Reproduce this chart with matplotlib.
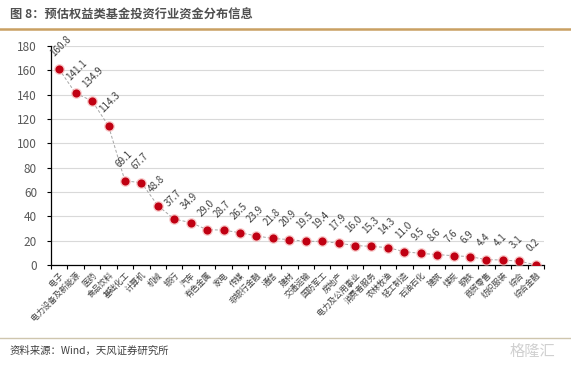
import matplotlib
matplotlib.use("Agg")
import matplotlib.pyplot as plt
from matplotlib.lines import Line2D
import numpy as np

plt.rcParams['font.family'] = ['Noto Sans CJK SC', 'DejaVu Sans']

categories = ["电子", "电力设备及新能源", "医药", "食品饮料", "基础化工", "计算机", "机械", "银行",
              "汽车", "有色金属", "家电", "传媒", "非银行金融", "通信", "建材", "交通运输",
              "国防军工", "房地产", "电力及公用事业", "消费者服务", "农林牧渔", "轻工制造",
              "石油石化", "建筑", "煤炭", "钢铁", "商贸零售", "纺织服装", "综合", "综合金融"]
values = [160.8, 141.1, 134.9, 114.3, 69.1, 67.7, 48.8, 37.7, 34.9, 29.0, 28.7, 26.5, 23.9,
          21.8, 20.9, 19.5, 19.4, 17.9, 16.0, 15.3, 14.3, 11.0, 9.5, 8.6, 7.6, 6.9, 4.4, 4.1,
          3.1, 0.2]
yticks = [0, 20, 40, 60, 80, 100, 120, 140, 160, 180]
title = "图 8：预估权益类基金投资行业资金分布信息"
source = "资料来源：Wind，天风证券研究所"

fig = plt.figure(figsize=(5.71, 3.70), dpi=100)
ax = fig.add_axes([51/571, 1-265/370, (544-51)/571, (265-46)/370])

x = np.arange(len(values))
ax.plot(x, values, color='#A6A6A6', lw=0.7, ls=(0, (3, 2)), zorder=2)
ax.scatter(x, values, s=60, color='#F4A6A6', alpha=0.6, zorder=3, lw=0)
ax.scatter(x, values, s=34, color='#C00012', zorder=4, lw=0)

for xi, v in zip(x, values):
    ax.annotate(f"{v:.1f}", (xi, v), xytext=(-3, 8), textcoords='offset points',
                rotation=45, rotation_mode='anchor', ha='left', va='bottom',
                fontsize=7, color='#404040')

ax.set_xlim(-0.5, len(values) - 0.5)
ax.set_ylim(0, 180)
ax.set_yticks(yticks)
ax.set_yticklabels([str(t) for t in yticks], fontsize=8.5, color='#595959')
ax.grid(axis='y', color='#D9D9D9', lw=0.8)
ax.set_axisbelow(True)

ax.set_xticks(x)
ax.set_xticklabels(categories, rotation=45, ha='right', rotation_mode='anchor',
                   fontsize=5.9, color='#404040')
ax.tick_params(axis='x', length=0, pad=4)
ax.set_xticks(np.arange(-0.5, len(values)), minor=True)
ax.tick_params(axis='x', which='minor', length=3, width=0.8, color='black')
ax.tick_params(axis='y', length=3, width=0.8, color='black', pad=7)

for s in ['top', 'right']:
    ax.spines[s].set_visible(False)
ax.spines['left'].set_color('black')
ax.spines['bottom'].set_color('black')
ax.spines['left'].set_linewidth(0.9)
ax.spines['bottom'].set_linewidth(0.9)

fig.text(10/571, 1-15/370, title, fontsize=8.8, fontweight='bold', color='#505050',
         ha='left', va='center')
fig.add_artist(Line2D([0, 1], [1-29/370, 1-29/370], color='#C9A063', lw=1.8,
                      transform=fig.transFigure))
fig.add_artist(Line2D([0, 1], [1-338/370, 1-338/370], color='#CFC6AE', lw=1.0,
                      transform=fig.transFigure))
fig.text(10/571, 1-351/370, source, fontsize=7.5, color='#404040', ha='left', va='center')
fig.text(532/571, 1-351/370, "格隆汇", fontsize=11, color='#D0D0D0', ha='center', va='center')

fig.savefig("out.png", dpi=100, facecolor='white')
